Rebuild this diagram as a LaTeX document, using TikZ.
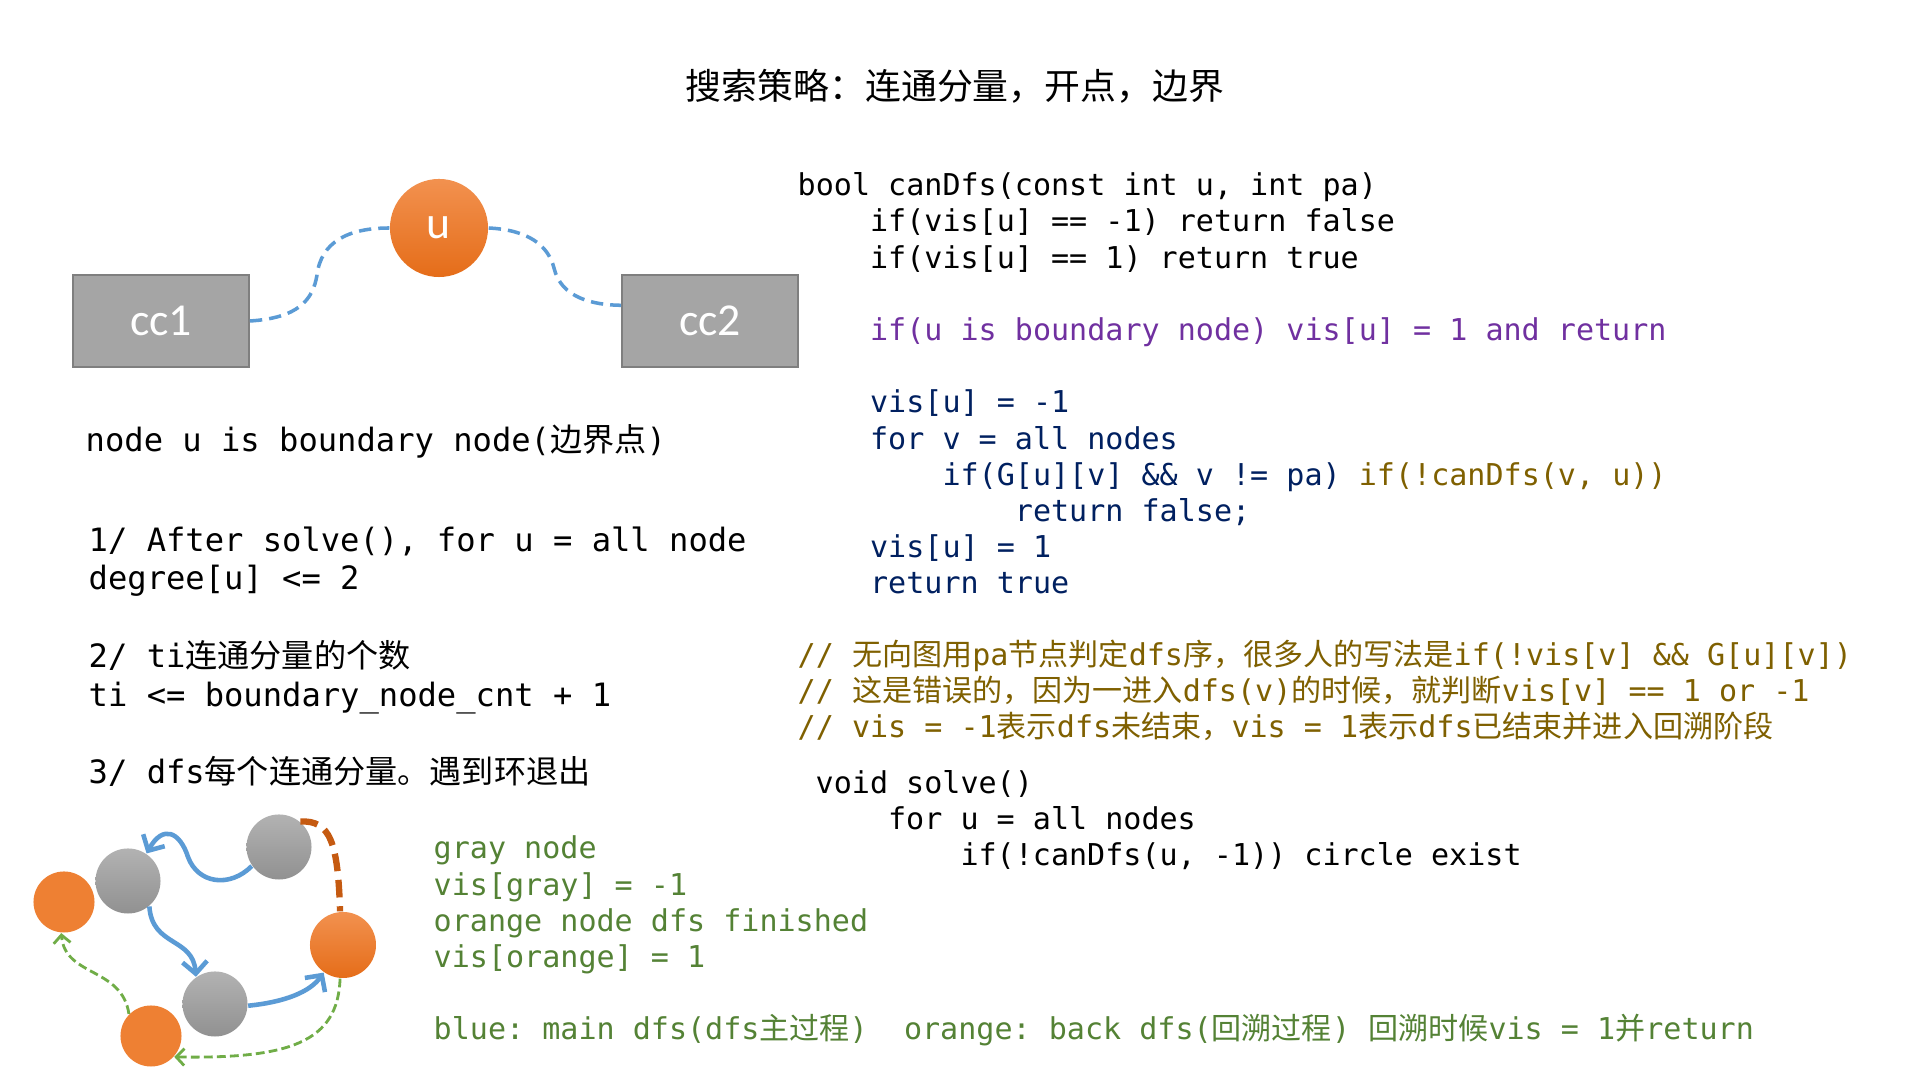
\documentclass[tikz,border=0pt]{standalone}
\usepackage{fontspec}
\setmonofont{DejaVu Sans Mono}
\newfontfamily\cjk{Noto Sans CJK SC}
\newfontfamily\boxfont{Carlito}
\usetikzlibrary{arrows}
\usetikzlibrary{arrows.meta}
\usetikzlibrary{shapes}
\definecolor{ccgray}{HTML}{A5A5A5}
\definecolor{ccline}{HTML}{7F7F7F}
\definecolor{orangetop}{HTML}{F2914F}
\definecolor{orangebot}{HTML}{E56D19}
\definecolor{orangec}{HTML}{EE8033}
\definecolor{graytop}{HTML}{B2B2B2}
\definecolor{graybot}{HTML}{919191}
\definecolor{linkblue}{HTML}{5B9BD5}
\definecolor{mainblue}{HTML}{5B9BD5}
\definecolor{backorange}{HTML}{C55A11}
\definecolor{retgreen}{HTML}{70AD47}
\definecolor{codepurple}{HTML}{7030A0}
\definecolor{codenavy}{HTML}{002060}
\definecolor{codeolive}{HTML}{7F6000}
\definecolor{notegreen}{HTML}{548235}
\newcommand{\zh}[1]{{\cjk #1}}
\newcommand{\ind}[1]{\hspace*{#1\fontcharwd\font`0}}
\tikzstyle{CcNode}=[rectangle, draw=ccline, fill=ccgray, line width=0.5pt, minimum width=1.76cm, minimum height=0.92cm, text=white, font=\boxfont\fontsize{13pt}{16pt}\selectfont]
\tikzstyle{BndNode}=[circle, top color=orangetop, bottom color=orangebot, draw=none, minimum size=0.98cm, inner sep=0pt, text=white, font=\boxfont\fontsize{13pt}{16pt}\selectfont]
\tikzstyle{GrayNode}=[circle, top color=graytop, bottom color=graybot, draw=none, minimum size=0.65cm, inner sep=0pt]
\tikzstyle{OrangeNode}=[circle, fill=orangec, minimum size=0.61cm, inner sep=0pt]
\tikzstyle{EndNode}=[circle, top color=orangetop, bottom color=orangebot, draw=none, minimum size=0.66cm, inner sep=0pt]
\tikzstyle{LinkEdge}=[linkblue, line width=1pt, dash pattern=on 3.5pt off 2pt]
\tikzstyle{MainEdge}=[-{Straight Barb[length=3.4pt, width=7pt]}, mainblue, line width=1.3pt]
\tikzstyle{BackEdge}=[backorange, line width=1.8pt, dash pattern=on 5pt off 2.5pt]
\tikzstyle{RetEdge}=[-{Straight Barb[length=2.3pt, width=4.8pt]}, retgreen, line width=0.8pt, dash pattern=on 2.5pt off 1.2pt]
\tikzstyle{CodeText}=[anchor=base west, inner sep=0pt, align=left, font=\fontsize{8.55pt}{10.3pt}\selectfont\ttfamily]
\tikzstyle{NoteText}=[CodeText, font=\fontsize{9.14pt}{11.04pt}\selectfont\ttfamily]
\tikzstyle{TitleText}=[anchor=base, inner sep=0pt, font=\cjk\fontsize{10.2pt}{12pt}\selectfont]
\tikzset{>=latex}

\begin{document}
\frenchspacing
\begin{tikzpicture}[x=0.01cm, y=-0.01cm]
\useasboundingbox[fill=white] (0,0) rectangle (1920,1080);

\node[TitleText](TITLE) at (955,100) {搜索策略：连通分量，开点，边界};

\node[CcNode](CC1) at (161,321) {cc1};
\node[CcNode](CC2) at (710,321) {cc2};
\node[BndNode](U) at (439,228) {u};

\draw[LinkEdge](CC1.east) .. controls (298,318) and (313,300) .. (317,275) .. controls (321,242) and (348,228) .. (U.west);
\draw[LinkEdge](U.east) .. controls (528,230) and (548,245) .. (554,268) .. controls (561,298) and (593,305) .. (CC2.170);

\node[NoteText](BND) at (85,452) {node u is boundary node(\zh{边界点})};
\node[NoteText](RULES) at (88,784) {1/ After solve(), for u = all node\\
degree[u] <= 2\\
\mbox{}\\
2/ ti\zh{连通分量的个数}\\
ti <= boundary\_node\_cnt + 1\\
\mbox{}\\
3/ dfs\zh{每个连通分量。遇到环退出}};

\node[CodeText](CANDFS) at (797,594) {bool canDfs(const int u, int pa)\\
\ind{4}if(vis[u] == -1) return false\\
\ind{4}if(vis[u] == 1) return true\\
\mbox{}\\
\ind{4}{\color{codepurple}if(u is boundary node) vis[u] = 1 and return}\\
\mbox{}\\
\ind{4}{\color{codenavy}vis[u] = -1}\\
\ind{4}{\color{codenavy}for v = all nodes}\\
\ind{8}{\color{codenavy}if(G[u][v] \&\& v != pa)} {\color{codeolive}if(!canDfs(v, u))}\\
\ind{12}{\color{codenavy}return false;}\\
\ind{4}{\color{codenavy}vis[u] = 1}\\
\ind{4}{\color{codenavy}return true}};

\node[CodeText, text=codeolive](WARN) at (797,738) {// \zh{无向图用}pa\zh{节点判定}dfs\zh{序，很多人的写法是}if(!vis[v] \&\& G[u][v])\\
// \zh{这是错误的，因为一进入}dfs(v)\zh{的时候，就判断}vis[v] == 1 or -1\\
// vis = -1\zh{表示}dfs\zh{未结束，}vis = 1\zh{表示}dfs\zh{已结束并进入回溯阶段}};

\node[CodeText](SOLVE) at (815,866) {void solve()\\
\ind{4}for u = all nodes\\
\ind{8}if(!canDfs(u, -1)) circle exist};

\node[CodeText, text=notegreen](LEGEND) at (433,1040) {gray node\\
vis[gray] = -1\\
orange node dfs finished\\
vis[orange] = 1\\
\mbox{}\\
blue: main dfs(dfs\zh{主过程})\ \ orange: back dfs(\zh{回溯过程}) \zh{回溯时候}vis = 1\zh{并}return};

\node[OrangeNode](O1) at (64,902) {};
\node[GrayNode](G1) at (128,881) {};
\node[GrayNode](G2) at (279,847) {};
\node[EndNode](O2) at (343,945) {};
\node[GrayNode](G3) at (215,1004) {};
\node[OrangeNode](O3) at (151,1036) {};

\draw[MainEdge](G2.215) .. controls (230,888) and (198,884) .. (188,857) .. controls (180,832) and (163,824) .. (G1.56);
\draw[MainEdge](G1.-50) .. controls (152,947) and (193,937) .. (G3.125);
\draw[MainEdge](G3.-3) .. controls (285,1002) and (310,992) .. (O2.235);
\draw[BackEdge](G2.50) .. controls (330,820) and (338,842) .. (O2.95);
\draw[RetEdge](O2.265) .. controls (338,1042) and (290,1059) .. (O3.-42);
\draw[RetEdge](O3.135) .. controls (122,967) and (65,977) .. (O1.265);
\end{tikzpicture}
\end{document}
